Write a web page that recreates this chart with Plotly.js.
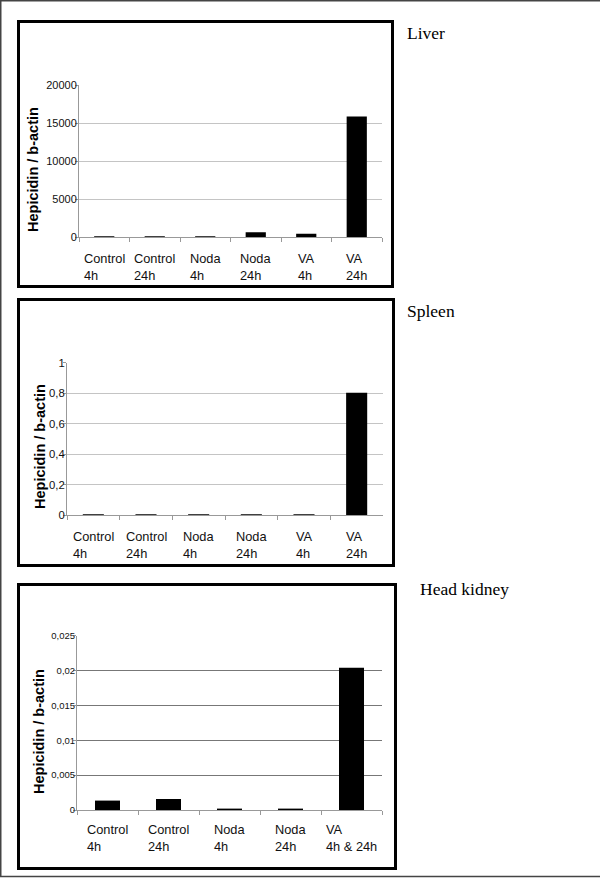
<!DOCTYPE html>
<html>
<head>
<meta charset="utf-8">
<script src="https://cdn.plot.ly/plotly-3.0.1.min.js"></script>
<style>
  html, body { margin:0; padding:0; background:#fff; }
  #chart { width:600px; height:878px; }
</style>
</head>
<body>
<div id="chart"></div>
<script>
// ---- Data ----
const liverCats = ['Control<br>4h','Control<br>24h','Noda<br>4h','Noda<br>24h','VA<br>4h','VA<br>24h'];
const liverVals = [150, 150, 130, 650, 470, 15850];
const liverTickVals = [0, 5000, 10000, 15000, 20000];
const liverTickText = ['0','5000','10000','15000','20000'];

const spleenCats = ['Control<br>4h','Control<br>24h','Noda<br>4h','Noda<br>24h','VA<br>4h','VA<br>24h'];
const spleenVals = [0.007, 0.007, 0.007, 0.007, 0.007, 0.803];
const spleenTickVals = [0, 0.2, 0.4, 0.6, 0.8, 1];
const spleenTickText = ['0','0,2','0,4','0,6','0,8','1'];

const kidneyCats = ['Control<br>4h','Control<br>24h','Noda<br>4h','Noda<br>24h','VA<br>4h &amp; 24h'];
const kidneyVals = [0.00135, 0.00158, 0.0002, 0.0002, 0.0204];
const kidneyTickVals = [0, 0.005, 0.01, 0.015, 0.02, 0.025];
const kidneyTickText = ['0','0,005','0,01','0,015','0,02','0,025'];

const panelNames = ['Liver','Spleen','Head kidney'];
const yTitle = 'Hepicidin / b-actin';

// ---- Helpers (pixel -> paper) ----
const W = 600, H = 878;
function px(x){ return x / W; }
function py(y){ return 1 - y / H; }

const sans = 'Liberation Sans, Arial, sans-serif';
const serif = 'Liberation Serif, Times New Roman, serif';

function barTrace(cats, vals, n){
  return {
    type:'bar', x:cats, y:vals,
    xaxis: n===1 ? 'x' : 'x'+n, yaxis: n===1 ? 'y' : 'y'+n,
    marker:{ color:'#000', line:{ width:0 } },
    hoverinfo:'x+y', showlegend:false
  };
}

function xAxis(domain, anchor){
  return {
    domain, anchor, type:'category',
    showticklabels:false, showgrid:false, zeroline:false,
    showline:true, linecolor:'#999', linewidth:1,
    ticks:'outside', tickson:'boundaries', ticklen:4, tickcolor:'#999'
  };
}
function yAxis(domain, anchor, range, tv, tt, size, grid){
  return {
    domain, anchor, range, tickvals:tv, ticktext:tt,
    showline:true, linecolor:'#999', linewidth:1,
    ticks:'outside', ticklen:3, tickcolor:'#999',
    ticklabelstandoff:-4,
    showgrid:true, gridcolor:grid, gridwidth:1, zeroline:false,
    tickfont:{ family:sans, size:size, color:'#111' }
  };
}

// category labels: centred under each category, lines left aligned
function catLabels(cats, axis, topPx){
  return cats.map(c => ({
    xref:axis, yref:'paper', x:c, y:py(topPx),
    xanchor:'center', yanchor:'top', align:'left',
    text:c, showarrow:false,
    font:{ family:sans, size:12.8, color:'#111' }
  }));
}

const annotations = [
  ...catLabels(liverCats, 'x', 249),
  ...catLabels(spleenCats, 'x2', 527),
  ...catLabels(kidneyCats, 'x3', 820),
  // y titles
  ...[[33,170],[40,447],[39,732]].map(([x,y]) => ({
    xref:'paper', yref:'paper', x:px(x), y:py(y), xanchor:'center', yanchor:'middle',
    text:'<b>'+yTitle+'</b>', textangle:-90, showarrow:false,
    font:{ family:sans, size:14.5, color:'#000' }
  })),
  // panel names
  ...[[405,33],[405,311],[418,589]].map(([x,y],i) => ({
    xref:'paper', yref:'paper', x:px(x), y:py(y), xanchor:'left', yanchor:'middle',
    text:panelNames[i], showarrow:false,
    font:{ family:serif, size:17.5, color:'#000' }
  }))
];

function box(x0,y0,x1,y1,w,c){
  return { type:'rect', xref:'paper', yref:'paper', x0:px(x0), y0:py(y0), x1:px(x1), y1:py(y1),
           line:{ color:c, width:w }, fillcolor:'rgba(0,0,0,0)' };
}
function hline(x0,x1,y,w,c){
  return { type:'line', xref:'paper', yref:'paper', x0:px(x0), x1:px(x1), y0:py(y), y1:py(y), line:{ color:c, width:w } };
}

const shapes = [
  box(18.5,21.5,392.5,286.5,3,'#000'),
  box(18.5,299.5,393.5,565.5,3,'#000'),
  box(18.5,584.5,395.5,868.5,3,'#000'),
  // outer page frame (no right edge)
  hline(0,600,0.75,1.5,'#444'),
  hline(0,600,876.5,1.5,'#444'),
  { type:'line', xref:'paper', yref:'paper', x0:px(0.75), x1:px(0.75), y0:py(0), y1:py(877), line:{ color:'#444', width:1.5 } }
];

const layout = {
  width:W, height:H,
  margin:{ l:0, r:0, t:0, b:0 },
  paper_bgcolor:'#fff', plot_bgcolor:'#fff',
  font:{ family:sans, color:'#111' },
  showlegend:false,
  bargap:0.6,
  xaxis: xAxis([px(79), px(382)], 'y'),
  yaxis: yAxis([py(237.3), py(85)], 'x', [0,20000], liverTickVals, liverTickText, 11, '#c4c4c4'),
  xaxis2: xAxis([px(67), px(383)], 'y2'),
  yaxis2: yAxis([py(515.3), py(362.7)], 'x2', [0,1], spleenTickVals, spleenTickText, 11.3, '#c4c4c4'),
  xaxis3: xAxis([px(77), px(382)], 'y3'),
  yaxis3: yAxis([py(810), py(635.7)], 'x3', [0,0.025], kidneyTickVals, kidneyTickText, 9.5, '#777'),
  annotations, shapes
};

const traces = [
  barTrace(liverCats, liverVals, 1),
  barTrace(spleenCats, spleenVals, 2),
  Object.assign(barTrace(kidneyCats, kidneyVals, 3), { width:0.41 })
];

Plotly.newPlot('chart', traces, layout, { displayModeBar:false, staticPlot:true });
</script>
</body>
</html>
